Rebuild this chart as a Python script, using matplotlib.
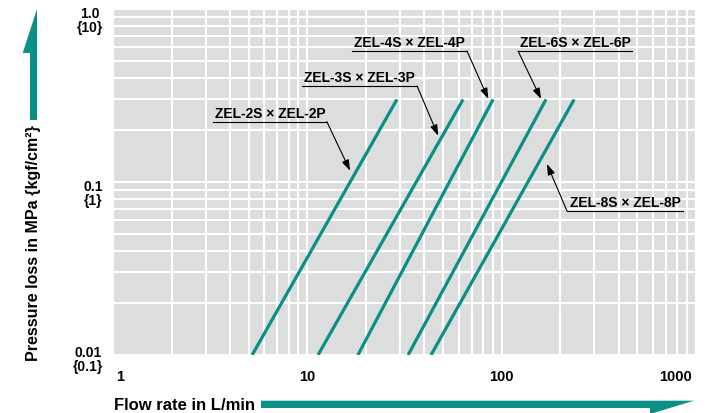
import matplotlib
matplotlib.use("Agg")
import matplotlib.pyplot as plt
from matplotlib.patches import Polygon
from matplotlib.ticker import LogLocator, NullFormatter

# ---------------- data ----------------
series = ["ZEL-2S × ZEL-2P", "ZEL-3S × ZEL-3P", "ZEL-4S × ZEL-4P",
          "ZEL-6S × ZEL-6P", "ZEL-8S × ZEL-8P"]
flow_low = [5.2, 11.35, 18.2, 33.0, 43.3]      # L/min at 0.01 MPa
flow_high = [28.9, 63.3, 90.3, 169.0, 236.0]   # L/min at 0.3 MPa
p_low = [0.01, 0.01, 0.01, 0.01, 0.01]
p_high = [0.3, 0.3, 0.3, 0.3, 0.3]

x_ticks = [1, 10, 100, 1000]
x_ticklabels = ["1", "10", "100", "1000"]
y_ticks = [1.0, 0.1, 0.01]
y_ticklabels = ["1.0\n{10}", "0.1\n{1}", "0.01\n{0.1}"]

# annotation: underline x-extent, underline y, arrow tip (x, y)
ann_x0 = [3.27, 9.39, 16.98, 121.4, 216.9]
ann_x1 = [12.6, 36.7, 66.3, 468.6, 857.7]
ann_y = [0.2232, 0.3589, 0.5718, 0.5718, 0.068]
ann_from_right = [True, True, True, False, False]
tip_x = [16.6, 47.1, 85.4, 159.4, 171.1]
tip_y = [0.1162, 0.1852, 0.302, 0.302, 0.127]

TEAL = "#0A8F87"
GRAY = "#DCDDDD"
FONT = "Liberation Sans"

W, H = 723, 414
fig = plt.figure(figsize=(W / 100, H / 100), dpi=100)
ax = fig.add_axes([113 / W, (H - 356) / H, 583 / W, 346 / H])
ax.set_xscale("log")
ax.set_yscale("log")
ax.set_xlim(1, 1000)
ax.set_ylim(0.01, 1.0)
ax.set_facecolor(GRAY)
for s in ax.spines.values():
    s.set_visible(False)

ax.xaxis.set_minor_locator(LogLocator(base=10, subs=range(2, 10)))
ax.yaxis.set_minor_locator(LogLocator(base=10, subs=range(2, 10)))
ax.xaxis.set_minor_formatter(NullFormatter())
ax.yaxis.set_minor_formatter(NullFormatter())
ax.grid(True, which="both", color="white", lw=1.5)
ax.set_axisbelow(True)
ax.tick_params(which="both", length=0, labelleft=False, labelbottom=False)

# curves
for xl, xh, yl, yh in zip(flow_low, flow_high, p_low, p_high):
    ax.plot([xl, xh], [yl, yh], color=TEAL, lw=2.3, solid_capstyle="butt", zorder=3)

# annotations
for name, x0, x1, y, fr, tx, ty in zip(series, ann_x0, ann_x1, ann_y,
                                       ann_from_right, tip_x, tip_y):
    ax.plot([x0, x1], [y, y], color="black", lw=0.8, zorder=4)
    xc = (x0 * x1) ** 0.5
    ax.annotate(name, xy=(xc, y), xytext=(0, 3.5), textcoords="offset points",
                ha="center", va="baseline", fontsize=10, fontweight="bold",
                family=FONT, color="black", zorder=5)
    start = (x1, y) if fr else (x0, y)
    ax.annotate("", xy=(tx, ty), xytext=start,
                arrowprops=dict(arrowstyle="-|>,head_length=0.65,head_width=0.22",
                                mutation_scale=10, color="black", lw=0.8,
                                shrinkA=0, shrinkB=0), zorder=5)

# y tick labels (manual, two-line)
tr_y = ax.get_yaxis_transform()
y_offsets = [-11.5, -11, -4]  # px
for val, lab, off in zip(y_ticks, y_ticklabels, y_offsets):
    ax.annotate(lab, xy=(0, val), xycoords=tr_y, xytext=(-10 * 0.72, off * 0.72),
                textcoords="offset points", ha="right", va="center",
                fontsize=10, fontweight="bold", family=FONT, linespacing=1.0,
                multialignment="center", annotation_clip=False)

# x tick labels
tr_x = ax.get_xaxis_transform()
for i, (val, lab) in enumerate(zip(x_ticks, x_ticklabels)):
    ha = "left" if i == 0 else ("right" if i == len(x_ticks) - 1 else "center")
    dx = 3 if i == 0 else (-4 if i == len(x_ticks) - 1 else 0)
    ax.annotate(lab, xy=(val, 0), xycoords=tr_x, xytext=(dx * 0.72, -14 * 0.72),
                textcoords="offset points", ha=ha, va="top",
                fontsize=10.5, fontweight="bold", family=FONT, annotation_clip=False)

# axis titles
fig.text(114 / W, 1 - 406 / H, "Flow rate in L/min", ha="left", va="center",
         fontsize=12, fontweight="bold", family=FONT)
fig.text(34 / W, 1 - 243 / H, "Pressure loss in MPa {kgf/cm²}", ha="center",
         va="center", rotation=90, fontsize=11.5, fontweight="bold", family=FONT)

# arrows (decorative)
def figpts(pts):
    return [(x / W, 1 - y / H) for x, y in pts]

up = figpts([(30, 121), (37, 121), (37, 10), (22.7, 54), (30, 54)])
fig.patches.append(Polygon(up, closed=True, transform=fig.transFigure,
                           facecolor=TEAL, edgecolor="none"))
right = figpts([(261, 401.7), (694, 401.7), (650, 415), (650, 409), (261, 409)])
fig.patches.append(Polygon(right, closed=True, transform=fig.transFigure,
                           facecolor=TEAL, edgecolor="none"))

fig.savefig("out.png", dpi=100)
